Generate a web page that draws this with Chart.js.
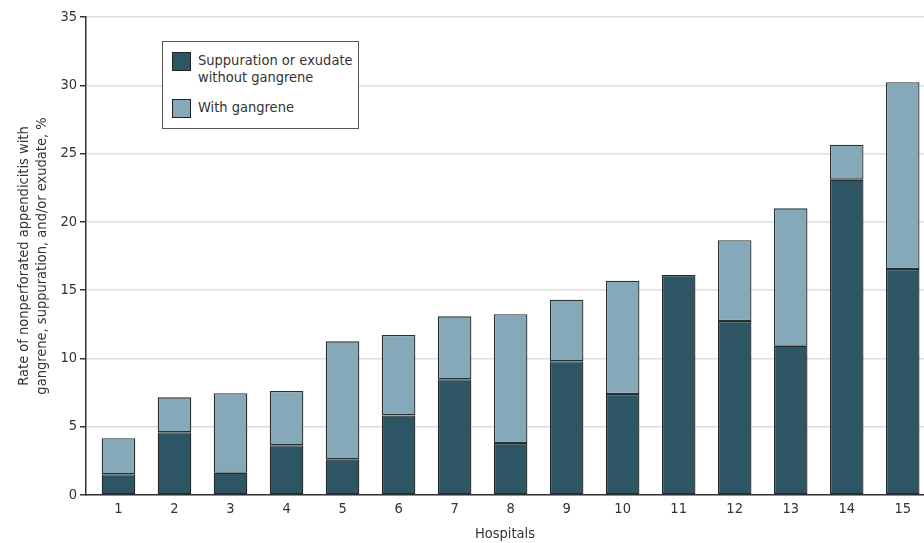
<!DOCTYPE html>
<html>
<head>
<meta charset="utf-8">
<script src="https://cdn.jsdelivr.net/npm/chart.js@4.4.1/dist/chart.umd.min.js"></script>
<style>
  html, body { margin: 0; padding: 0; background: #fff; overflow: hidden; }
  #wrap { position: relative; width: 924px; height: 543px; }
  #legend {
    position: absolute; left: 162px; top: 41px; width: 195px; height: 86px;
    border: 1px solid #555; background: #fff;
    font-family: "DejaVu Sans Condensed", sans-serif;
    font-size: 14.5px; color: #333; line-height: 17px;
  }
  .item { position: absolute; left: 9px; }
  .sw { position: absolute; left: 0; width: 19px; height: 19px; border: 1px solid #222; box-sizing: border-box; }
  .lab { position: absolute; left: 26px; white-space: nowrap; }
</style>
</head>
<body>
<div id="wrap">
  <canvas id="myChart" width="924" height="543"></canvas>
  <div id="legend">
    <div class="item" style="top:10px"><div class="sw" style="background:#2e5563"></div>
      <div class="lab" style="top:0">Suppuration or exudate<br>without gangrene</div></div>
    <div class="item" style="top:57px"><div class="sw" style="background:#85a9b8"></div>
      <div class="lab" style="top:0">With gangrene</div></div>
  </div>
</div>
<script>
// hospital numbers
var hospitals = [1, 2, 3, 4, 5, 6, 7, 8, 9, 10, 11, 12, 13, 14, 15];
// suppuration or exudate without gangrene, %
var suppuration = [1.52, 4.59, 1.63, 3.64, 2.61, 5.83, 8.47, 3.81, 9.79, 7.40, 16.11, 12.74, 10.93, 23.09, 16.55];
// with gangrene, %
var gangrene = [2.63, 2.56, 5.82, 3.97, 8.64, 5.89, 4.61, 9.42, 4.51, 8.29, 0, 5.91, 10.06, 2.56, 13.67];
var yTicks = [0, 5, 10, 15, 20, 25, 30, 35];

var fontFamily = '"DejaVu Sans Condensed", sans-serif';

function points(values) {
  return hospitals.map(function (h, i) {
    return { x: h, y: values[i] };
  });
}

var config = {
  type: "bar",
  data: {
    datasets: [
      {
        label: "Suppuration or exudate without gangrene",
        data: points(suppuration),
        backgroundColor: "#2e5563",
        borderColor: "#222a2d",
        borderWidth: 1.3,
        borderSkipped: false,
        barPercentage: 0.75,
        categoryPercentage: 0.8,
      },
      {
        label: "With gangrene",
        data: points(gangrene),
        backgroundColor: "#85a9b8",
        borderColor: "#2a3235",
        borderWidth: 1.3,
        borderSkipped: false,
        barPercentage: 0.75,
        categoryPercentage: 0.8,
      },
    ],
  },
  options: {
    responsive: false,
    animation: false,
    layout: { padding: { top: 17, left: 0, right: 0, bottom: 0 } },
    plugins: { legend: { display: false }, tooltip: { enabled: false } },
    scales: {
      x: {
        type: "linear",
        stacked: true,
        offset: false,
        min: 0.42,
        max: 15.38,
        afterBuildTicks: function (scale) {
          scale.ticks = hospitals.map(function (h) { return { value: h }; });
        },
        afterFit: function (scale) { scale.height = 48; },
        grid: { display: false, drawTicks: false, tickLength: 0 },
        border: { display: true, color: "#333", width: 1.5 },
        ticks: {
          color: "#333",
          font: { family: fontFamily, size: 14.5 },
          padding: 6,
          autoSkip: false,
          maxRotation: 0,
        },
        title: {
          display: true,
          text: "Hospitals",
          color: "#333",
          font: { family: fontFamily, size: 14.5 },
          padding: { top: 2, bottom: 0 },
        },
      },
      y: {
        stacked: true,
        min: 0,
        max: 35,
        afterBuildTicks: function (scale) {
          scale.ticks = yTicks.map(function (v) { return { value: v }; });
        },
        afterFit: function (scale) { scale.width = 86; },
        grid: { color: "#dedede", tickColor: "#333", tickLength: 6, lineWidth: 1.5 },
        border: { display: true, color: "#333", width: 1.5 },
        ticks: {
          color: "#333",
          font: { family: fontFamily, size: 14.5 },
          padding: 3,
        },
        title: {
          display: true,
          text: ["Rate of nonperforated appendicitis with", "gangrene, suppuration, and/or exudate, %"],
          color: "#333",
          font: { family: fontFamily, size: 14.5, lineHeight: 1.25 },
          padding: { top: 15, bottom: 0 },
        },
      },
    },
  },
};

var myChart = new Chart(document.getElementById("myChart"), config);
</script>
</body>
</html>
